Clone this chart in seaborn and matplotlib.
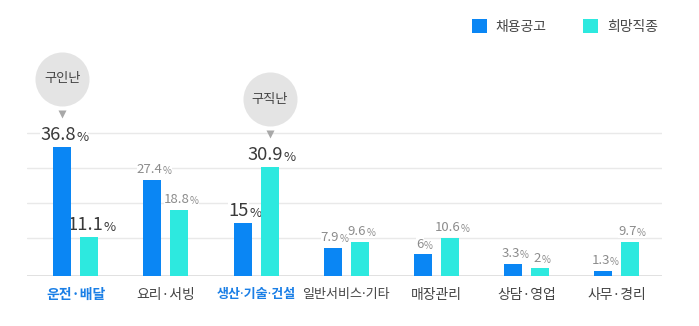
import numpy as np
import pandas as pd
import matplotlib
matplotlib.use("Agg")
import matplotlib.pyplot as plt
import matplotlib.transforms as mtransforms
import seaborn as sns

# ---- data ----
categories = ["운전·배달", "요리·서빙", "생산·기술·건설", "일반서비스·기타", "매장관리", "상담·영업", "사무·경리"]
series_names = ["채용공고", "희망직종"]
job_postings = [36.8, 27.4, 15, 7.9, 6, 3.3, 1.3]
desired_jobs = [11.1, 18.8, 30.9, 9.6, 10.6, 2, 9.7]
highlight_categories = ["운전·배달", "생산·기술·건설"]
callout_texts = ["구인난", "구직난"]
callout_series = [0, 1]
callout_categories = [0, 2]
grid_levels = [10.7, 20.7, 30.7, 40.7]

# ---- style ----
BLUE = "#0a86f4"
CYAN = "#2de9df"
sns.set_theme(style="white")
plt.rcParams["font.family"] = ["Noto Sans CJK KR", "DejaVu Sans"]

df = pd.DataFrame({
    "category": categories * 2,
    "series": [series_names[0]] * len(categories) + [series_names[1]] * len(categories),
    "value": job_postings + desired_jobs,
})

fig = plt.figure(figsize=(6.99, 3.26), dpi=100)
ax = fig.add_axes([27 / 699, 50.5 / 326, 635 / 699, 225.5 / 326])

sns.barplot(data=df, x="category", y="value", hue="series", order=categories,
            hue_order=series_names, palette=[BLUE, CYAN], width=0.6, gap=1 / 3,
            saturation=1, errorbar=None, ax=ax, zorder=2, linewidth=0)

ax.set_xlim(-0.54, 6.5)
ax.set_ylim(0, 64.4)
for s in ax.spines.values():
    s.set_visible(False)
ax.set_yticks([])
ax.set_xlabel("")
ax.set_ylabel("")

for g in grid_levels:
    ax.axhline(g, color="#e9e9e9", lw=1, zorder=0)
ax.axhline(0, color="#dedede", lw=1.3, zorder=1)

ax.tick_params(axis="x", length=0, pad=9, labelsize=10, labelcolor="#444444")
for lbl in ax.get_xticklabels():
    text = lbl.get_text()
    if len(text) > 5:
        # long labels are set tighter in the reference
        lbl.set_family(["Noto Sans", "Noto Sans CJK KR"])
        lbl.set_fontsize(9.4)
    if text in highlight_categories:
        lbl.set_color("#1a7fe6")
        lbl.set_fontweight("bold")

# ---- value labels ----
for si, cont in enumerate(ax.containers[:2]):
    for ci, bar in enumerate(cont):
        x = bar.get_x() + bar.get_width() / 2
        h = bar.get_height()
        big = categories[ci] in highlight_categories
        col = "#3a3a3a" if big else "#8c8c8c"
        num = ax.annotate(f"{h:g}", xy=(x, h), xytext=(-3 if big else -2, 5),
                          textcoords="offset points", ha="center", va="baseline",
                          fontsize=13.2 if big else 9.5, color=col, zorder=1.5,
                          annotation_clip=False,
                          bbox=dict(fc="white", ec="none", pad=0.1))
        ax.annotate("%", xy=(1, 0), xycoords=num, xytext=(0.3 if big else 0.1, 0),
                    textcoords="offset points", ha="left", va="bottom",
                    fontsize=9.5 if big else 7, color=col, zorder=1.5,
                    annotation_clip=False,
                    bbox=dict(fc="white", ec="none", pad=0.1))

# ---- callouts ----
for txt, si, ci in zip(callout_texts, callout_series, callout_categories):
    bar = ax.containers[si][ci]
    x = bar.get_x() + bar.get_width() / 2
    h = bar.get_height()
    tr_c = mtransforms.offset_copy(ax.transData, fig=fig, x=0, y=49, units="points")
    tr_t = mtransforms.offset_copy(ax.transData, fig=fig, x=0, y=23.8, units="points")
    ax.plot([x], [h], marker="o", ms=38.9, mfc="#e4e4e4", mec="none",
            transform=tr_c, clip_on=False, zorder=6)
    ax.plot([x], [h], marker="v", ms=5.2, mfc="#a8a8a8", mec="none",
            transform=tr_t, clip_on=False, zorder=6)
    ax.annotate(txt, xy=(x, h), xytext=(0, 49), textcoords="offset points",
                ha="center", va="center", fontsize=9.5, color="#444444", zorder=7,
                annotation_clip=False)

# ---- legend ----
sns.move_legend(ax, "center right", bbox_to_anchor=(658 / 699, (326 - 26.5) / 326),
                bbox_transform=fig.transFigure, ncol=2, title=None, frameon=False,
                fontsize=10, handlelength=1.08, handleheight=1.08, handletextpad=0.65,
                columnspacing=2.6, borderaxespad=0, borderpad=0)
for t in ax.get_legend().get_texts():
    t.set_color("#444444")

fig.savefig("out.png", dpi=100)
